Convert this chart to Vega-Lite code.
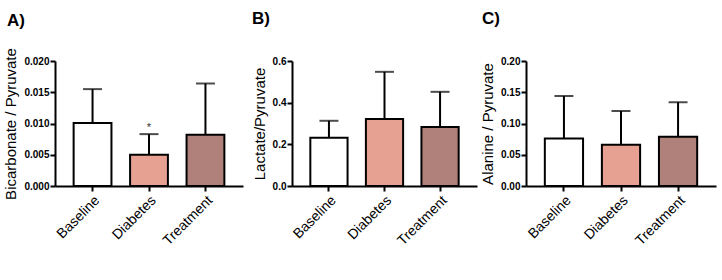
{
  "$schema": "https://vega.github.io/schema/vega-lite/v6.json",
  "background": "white",
  "padding": {"left": 3, "top": 10, "right": 2, "bottom": 2},
  "spacing": 49,
  "bounds": "flush",
  "config": {
    "font": "Liberation Sans",
    "view": {"stroke": null},
    "title": {"fontSize": 17, "fontWeight": "bold", "anchor": "start", "frame": "group", "color": "black", "offset": 28},
    "axis": {
      "domainColor": "black", "domainWidth": 2, "tickColor": "black", "tickWidth": 2,
      "tickSize": 5, "grid": false, "labelColor": "black", "titleColor": "black"
    },
    "axisY": {"labelFontSize": 10, "labelFontWeight": "bold", "labelPadding": 1, "labelOverlap": false, "titleFontSize": 15, "titleFontWeight": "normal", "titlePadding": 5},
    "axisX": {"labelFontSize": 14, "labelAngle": -45, "labelPadding": 2, "title": null}
  },
  "datasets": {
    "a": [
      {"group": "Baseline", "value": 0.0101, "upper": 0.0155, "sig": ""},
      {"group": "Diabetes", "value": 0.0050, "upper": 0.0083, "sig": "*"},
      {"group": "Treatment", "value": 0.0082, "upper": 0.0164, "sig": ""}
    ],
    "b": [
      {"group": "Baseline", "value": 0.232, "upper": 0.313},
      {"group": "Diabetes", "value": 0.322, "upper": 0.548},
      {"group": "Treatment", "value": 0.283, "upper": 0.452}
    ],
    "c": [
      {"group": "Baseline", "value": 0.076, "upper": 0.144},
      {"group": "Diabetes", "value": 0.066, "upper": 0.120},
      {"group": "Treatment", "value": 0.079, "upper": 0.134}
    ]
  },
  "hconcat": [
    {
      "title": {"text": "A)", "dx": -48, "offset": 18},
      "width": 188, "height": 125,
      "data": {"name": "a"},
      "encoding": {
        "x": {"field": "group", "type": "nominal", "sort": null, "scale": {"paddingInner": 0.33, "paddingOuter": 0.33}}
      },
      "resolve": {"axis": {"y": "shared"}},
      "layer": [
        {"mark": {"type": "rule", "color": "black", "strokeWidth": 2},
         "encoding": {
           "y": {"field": "value", "type": "quantitative", "title": "Bicarbonate / Pyruvate",
                 "scale": {"domain": [0, 0.02], "nice": false},
                 "axis": {"values": [0, 0.005, 0.01, 0.015, 0.02], "format": ".3f"}},
           "y2": {"field": "upper"}}},
        {"mark": {"type": "tick", "color": "black", "thickness": 2, "size": 19, "orient": "horizontal"},
         "encoding": {
           "y": {"field": "upper", "type": "quantitative", "title": "Bicarbonate / Pyruvate",
                 "scale": {"domain": [0, 0.02], "nice": false},
                 "axis": {"values": [0, 0.005, 0.01, 0.015, 0.02], "format": ".3f"}}}},
        {"mark": {"type": "bar", "stroke": "black", "strokeWidth": 2},
         "encoding": {
           "y": {"field": "value", "type": "quantitative", "title": "Bicarbonate / Pyruvate",
                 "scale": {"domain": [0, 0.02], "nice": false},
                 "axis": {"values": [0, 0.005, 0.01, 0.015, 0.02], "format": ".3f"}},
           "fill": {"field": "group", "type": "nominal", "legend": null,
                    "scale": {"domain": ["Baseline", "Diabetes", "Treatment"], "range": ["#ffffff", "#e7a193", "#b0807b"]}}
         }},
        {"mark": {"type": "text", "fontSize": 11, "dy": -6, "color": "#333333"},
         "encoding": {
           "y": {"field": "upper", "type": "quantitative", "title": "Bicarbonate / Pyruvate",
                 "scale": {"domain": [0, 0.02], "nice": false},
                 "axis": {"values": [0, 0.005, 0.01, 0.015, 0.02], "format": ".3f"}},
           "text": {"field": "sig"}}}
      ]
    },
    {
      "title": {"text": "B)", "dx": -40},
      "width": 185, "height": 125,
      "data": {"name": "b"},
      "encoding": {
        "x": {"field": "group", "type": "nominal", "sort": null, "scale": {"paddingInner": 0.33, "paddingOuter": 0.33}}
      },
      "layer": [
        {"mark": {"type": "rule", "color": "black", "strokeWidth": 2},
         "encoding": {
           "y": {"field": "value", "type": "quantitative", "title": "Lactate/Pyruvate",
                 "scale": {"domain": [0, 0.6], "nice": false},
                 "axis": {"values": [0, 0.2, 0.4, 0.6], "format": ".1f"}},
           "y2": {"field": "upper"}}},
        {"mark": {"type": "tick", "color": "black", "thickness": 2, "size": 19, "orient": "horizontal"},
         "encoding": {
           "y": {"field": "upper", "type": "quantitative", "title": "Lactate/Pyruvate",
                 "scale": {"domain": [0, 0.6], "nice": false},
                 "axis": {"values": [0, 0.2, 0.4, 0.6], "format": ".1f"}}}},
        {"mark": {"type": "bar", "stroke": "black", "strokeWidth": 2},
         "encoding": {
           "y": {"field": "value", "type": "quantitative", "title": "Lactate/Pyruvate",
                 "scale": {"domain": [0, 0.6], "nice": false},
                 "axis": {"values": [0, 0.2, 0.4, 0.6], "format": ".1f"}},
           "fill": {"field": "group", "type": "nominal", "legend": null,
                    "scale": {"domain": ["Baseline", "Diabetes", "Treatment"], "range": ["#ffffff", "#e7a193", "#b0807b"]}}
         }}
      ]
    },
    {
      "title": {"text": "C)", "dx": -44},
      "width": 190, "height": 125,
      "data": {"name": "c"},
      "encoding": {
        "x": {"field": "group", "type": "nominal", "sort": null, "scale": {"paddingInner": 0.33, "paddingOuter": 0.33}}
      },
      "layer": [
        {"mark": {"type": "rule", "color": "black", "strokeWidth": 2},
         "encoding": {
           "y": {"field": "value", "type": "quantitative", "title": "Alanine / Pyruvate",
                 "scale": {"domain": [0, 0.2], "nice": false},
                 "axis": {"values": [0, 0.05, 0.1, 0.15, 0.2], "format": ".2f"}},
           "y2": {"field": "upper"}}},
        {"mark": {"type": "tick", "color": "black", "thickness": 2, "size": 19, "orient": "horizontal"},
         "encoding": {
           "y": {"field": "upper", "type": "quantitative", "title": "Alanine / Pyruvate",
                 "scale": {"domain": [0, 0.2], "nice": false},
                 "axis": {"values": [0, 0.05, 0.1, 0.15, 0.2], "format": ".2f"}}}},
        {"mark": {"type": "bar", "stroke": "black", "strokeWidth": 2},
         "encoding": {
           "y": {"field": "value", "type": "quantitative", "title": "Alanine / Pyruvate",
                 "scale": {"domain": [0, 0.2], "nice": false},
                 "axis": {"values": [0, 0.05, 0.1, 0.15, 0.2], "format": ".2f"}},
           "fill": {"field": "group", "type": "nominal", "legend": null,
                    "scale": {"domain": ["Baseline", "Diabetes", "Treatment"], "range": ["#ffffff", "#e7a193", "#b0807b"]}}
         }}
      ]
    }
  ]
}
